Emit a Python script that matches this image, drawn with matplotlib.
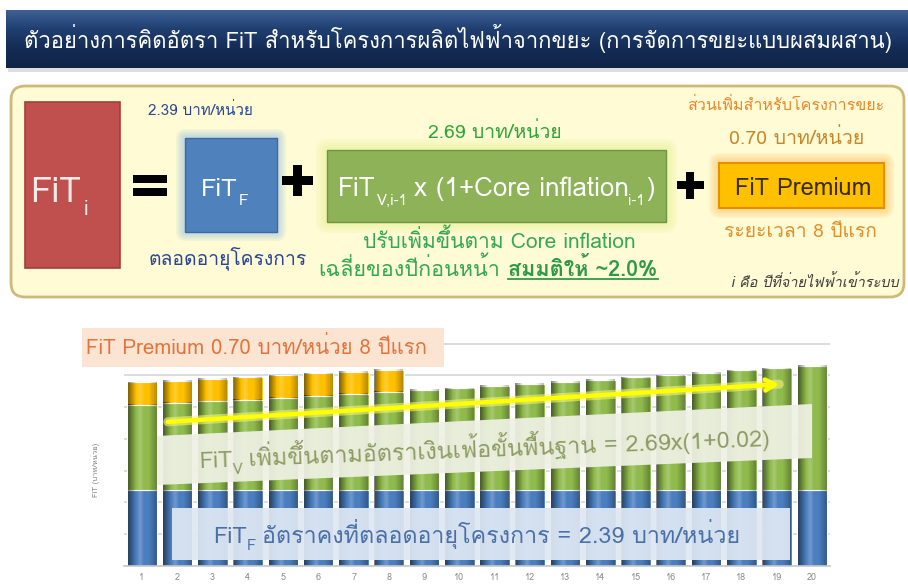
import matplotlib
matplotlib.use("Agg")
import matplotlib.pyplot as plt
import numpy as np
from matplotlib.patches import FancyBboxPatch, Rectangle, Polygon
from matplotlib.colors import LinearSegmentedColormap
from matplotlib.transforms import IdentityTransform

# ---------------- data ----------------
years = [1, 2, 3, 4, 5, 6, 7, 8, 9, 10, 11, 12, 13, 14, 15, 16, 17, 18, 19, 20]
fit_f = [2.39, 2.39, 2.39, 2.39, 2.39, 2.39, 2.39, 2.39, 2.39, 2.39,
         2.39, 2.39, 2.39, 2.39, 2.39, 2.39, 2.39, 2.39, 2.39, 2.39]
fit_v = [2.69, 2.74, 2.80, 2.85, 2.91, 2.97, 3.03, 3.09, 3.15, 3.21,
         3.28, 3.34, 3.41, 3.48, 3.55, 3.62, 3.69, 3.77, 3.84, 3.92]
premium = [0.70, 0.70, 0.70, 0.70, 0.70, 0.70, 0.70, 0.70, 0, 0,
           0, 0, 0, 0, 0, 0, 0, 0, 0, 0]
xtick_labels = [str(y) for y in years]

TITLE = "ตัวอย่างการคิดอัตรา FiT สำหรับโครงการผลิตไฟฟ้าจากขยะ (การจัดการขยะแบบผสมผสาน)"

W, H = 908, 587
TH = ["Loma", "DejaVu Sans"]
plt.rcParams['font.family'] = TH

fig = plt.figure(figsize=(W / 100, H / 100), dpi=100)
fig.patch.set_facecolor("white")
renderer = fig.canvas.get_renderer()
ID = IdentityTransform()


def px_axes(z):
    a = fig.add_axes([0, 0, 1, 1], zorder=z)
    a.set_xlim(0, W)
    a.set_ylim(H, 0)
    a.axis("off")
    a.patch.set_alpha(0)
    return a


bg = px_axes(0)


def rich(x, y, segs, rot=0.0, ha='left', width=None, center=True, z=10):
    """segs: (text, fontsize_pt, dy_px_down, kwargs, gap_px)"""
    items = []
    for seg in segs:
        s, fs, dy = seg[0], seg[1], seg[2]
        kw = seg[3] if len(seg) > 3 else {}
        gap = seg[4] if len(seg) > 4 else 0
        t = fig.text(0, 0, s, fontsize=fs, transform=ID, ha='left',
                     va='baseline', zorder=z, **kw)
        items.append([t, fs, dy, gap])

    def widths():
        return [it[0].get_window_extent(renderer).width for it in items]
    ws = widths()
    if width:
        total = sum(ws) + sum(it[3] for it in items[:-1])
        k = width / total
        for it in items:
            it[1] *= k
            it[2] *= k
            it[3] *= k
            it[0].set_fontsize(it[1])
        ws = widths()
    total = sum(ws) + sum(it[3] for it in items[:-1])
    r = np.radians(rot)
    ux, uy = np.cos(r), np.sin(r)
    pxv, pyv = np.sin(r), -np.cos(r)
    yb = y
    if center:
        yb = y + 0.36 * items[0][1] * 100 / 72
    X0, Y0 = x, H - yb
    if ha == 'center':
        X0 -= total / 2 * ux
        Y0 -= total / 2 * uy
    cum = 0
    out = []
    for it, w in zip(items, ws):
        t, fs, dy, gap = it
        X = X0 + cum * ux + dy * pxv
        Y = Y0 + cum * uy + dy * pyv
        t.set_position((X, Y))
        t.set_rotation(rot)
        t.set_rotation_mode('anchor')
        out.append((X, H - Y, w, fs))
        cum += w + gap
    return out


def ctext(x0, x1, y, s, fs=12, **kw):
    return rich((x0 + x1) / 2, y, [(s, fs, 0, kw)], ha='center', width=x1 - x0)


# ---------------- title banner ----------------
cm_ban = LinearSegmentedColormap.from_list("ban", ["#3d5f93", "#1f3e70", "#142c55", "#102446"])
grad = np.linspace(0, 1, 64).reshape(-1, 1)
bg.add_patch(Rectangle((8, 64), 900, 8, fc="#7f7f7f", alpha=0.25, lw=0, zorder=0.5))
bg.imshow(grad, extent=[6, 908, 68, 10], cmap=cm_ban, aspect='auto', origin='upper', zorder=1)
ctext(22, 893, 40, TITLE, color="white")

# ---------------- equation panel ----------------
bg.add_patch(FancyBboxPatch((11, 86), 893, 211,
                            boxstyle="round,pad=0,rounding_size=14",
                            fc="#fefbd5", ec="#cdb978", lw=2, zorder=1))

# red FiT_i
bg.add_patch(Rectangle((25, 102), 95, 166, fc="#c0504d", ec="#a43f3c", lw=1.2, zorder=2))
rich(30, 189, [("FiT", 17, 0, dict(color="#fbeaea"), 2),
               ("i", 10, 9, dict(color="#fbeaea"), 0)], width=58)

# "=" sign
bg.add_patch(Rectangle((133, 175), 34, 8, fc="black", lw=0, zorder=2))
bg.add_patch(Rectangle((133, 188), 34, 8, fc="black", lw=0, zorder=2))


def glow(x, y, w, h, col, n=6, spread=9, a=0.10):
    for i in range(n, 0, -1):
        p = spread * i / n
        bg.add_patch(FancyBboxPatch((x - p, y - p), w + 2 * p, h + 2 * p,
                                    boxstyle=f"round,pad=0,rounding_size={p + 1}",
                                    fc=col, ec="none", alpha=a, zorder=1.5))


def plus(cx, cy, L, t):
    bg.add_patch(Rectangle((cx - L / 2, cy - t / 2), L, t, fc="black", lw=0, zorder=2))
    bg.add_patch(Rectangle((cx - t / 2, cy - L / 2), t, L, fc="black", lw=0, zorder=2))


# blue FiT_F box
glow(185, 138, 92, 94, "#8fb8e8")
bg.add_patch(Rectangle((185, 138), 92, 94, fc="#4f81bd", ec="#3b6aa3", lw=1, zorder=2))
rich(201, 187, [("FiT", 12, 0, dict(color="white"), 1),
                ("F", 7.5, 6, dict(color="white"), 0)], width=48)
ctext(148, 253, 110, "2.39 บาท/หน่วย", color="#2a4796")
ctext(148, 307, 257, "ตลอดอายุโครงการ", color="#2a4796")

plus(297, 180, 31, 9)

# green FiT_V box
glow(327, 150, 339, 72, "#e6f28c", spread=11, a=0.12)
bg.add_patch(Rectangle((327, 150), 339, 72, fc="#8db257", ec="#6f9541", lw=1, zorder=2))
wc = dict(color="white")
rich(338, 187, [("FiT", 13, 0, wc, 1),
                ("V,i-1", 7.5, 6, wc, 4),
                ("x (1+Core inflation", 13, 0, wc, 0),
                ("i-1", 7.5, 6, wc, 1),
                (")", 13, 0, wc)], width=317)
ctext(428, 562, 131, "2.69 บาท/หน่วย", color="#2fa536")
ctext(363, 636, 240, "ปรับเพิ่มขึ้นตาม Core inflation", color="#34a853")
segs = rich(318, 268, [("เฉลี่ยของปีก่อนหน้า", 11, 0, dict(color="#34a853"), 6),
                       ("สมมติให้ ~2.0%", 11, 0, dict(color="#2e9a48", weight="bold"))],
            width=339)
ux0, uy0, uw, ufs = segs[1]
bg.plot([ux0, ux0 + uw], [uy0 + 3, uy0 + 3], color="#2e9a48", lw=1.3, zorder=3)

plus(690, 185, 27, 8)

# orange premium box
glow(719, 163, 165, 45, "#ffc46a", spread=10, a=0.14)
bg.add_patch(Rectangle((719, 163), 165, 45, fc="#ffc000", ec="#e58e00", lw=1.5, zorder=2))
ctext(735, 872, 186, "FiT Premium", color="#3a2c05")
ctext(687, 884, 104, "ส่วนเพิ่มสำหรับโครงการขยะ", color="#e8892b")
ctext(729, 864, 137, "0.70 บาท/หน่วย", color="#c8862a")
ctext(724, 877, 230, "ระยะเวลา 8 ปีแรก", color="#e0902a")
ctext(731, 899, 282, "i คือ ปีที่จ่ายไฟฟ้าเข้าระบบ", color="#404040", style="italic")

# ---------------- bar chart ----------------
ax_l, ax_r, ax_b, ax_t = 124.4, 829.6, 566, 343
ax = fig.add_axes([ax_l / W, (H - ax_b) / H, (ax_r - ax_l) / W, (ax_b - ax_t) / H], zorder=1)
ax.patch.set_alpha(0)
bw = 0.86
bottom_v = [f for f in fit_f]
bottom_p = [f + v for f, v in zip(fit_f, fit_v)]
b1 = ax.bar(years, fit_f, width=bw, color="#4a7ebf", edgecolor="white", lw=0.8, zorder=2)
b2 = ax.bar(years, fit_v, width=bw, bottom=bottom_v, color="#8fba4c", edgecolor="white", lw=0.8, zorder=2)
b3 = ax.bar(years, premium, width=bw, bottom=bottom_p, color="#ffc000", edgecolor="white", lw=0.8, zorder=2)

# cylinder-like shading
n = 40
xs = np.linspace(0, 1, n)
shade = np.zeros((1, n, 4))
dark = np.clip(0.5 * (1 - xs / 0.28), 0, None) + np.clip(0.28 * (xs - 0.72) / 0.28, 0, None)
light = np.clip(0.22 * (1 - np.abs(xs - 0.42) / 0.14), 0, None)
rgb = np.where((light > 0)[:, None], np.array([1.0, 1.0, 1.0]), np.array([0.0, 0.0, 0.0]))
shade[0, :, :3] = rgb
shade[0, :, 3] = np.maximum(dark, light)
for cont in (b1, b2, b3):
    for p in cont.patches:
        if p.get_height() <= 0:
            continue
        x0, y0 = p.get_x(), p.get_y()
        ax.imshow(shade, extent=[x0 + 0.02, x0 + p.get_width() - 0.02, y0, y0 + p.get_height()],
                  aspect='auto', zorder=2.1, interpolation='bilinear')

ax.set_xlim(0.5, 20.5)
ax.set_ylim(0, 7.02)
ax.set_yticks(range(0, 8))
ax.yaxis.grid(True, color="#d9d9d9", lw=1.3)
ax.set_axisbelow(True)
ax.tick_params(axis='y', length=0, labelleft=False)
ax.set_xticks(years)
ax.set_xticklabels(xtick_labels)
ax.tick_params(axis='x', length=0, labelsize=6.5, labelcolor="#8c8c8c", pad=5)
for s in ("top", "right", "left"):
    ax.spines[s].set_visible(False)
ax.spines["bottom"].set_color("#c8c8c8")
ax.spines["bottom"].set_linewidth(1.2)
fig.text(96, H - 470, "FiT (บาท/หน่วย)", transform=ID, rotation=90, fontsize=5.5,
         color="#7f7f7f", ha="center", va="center")

# ---------------- overlays on the chart ----------------
fg = px_axes(2)
fg.add_patch(Rectangle((82, 328), 362, 39, fc="#fbe4d2", ec="none", zorder=1))
ctext(86, 428, 347, "FiT Premium 0.70 บาท/หน่วย 8 ปีแรก", color="#e4733a")

fg.add_patch(Polygon([(157, 436), (812, 404), (812, 458), (157, 485)], closed=True,
                     fc="#eef1e3", ec="none", alpha=0.94, zorder=1))
gcol = dict(color="#8c9c62")
rich(485, 449, [("FiT", 17, 0, gcol, 0), ("V", 11, 7, gcol, 6),
                ("เพิ่มขึ้นตามอัตราเงินเฟ้อขั้นพื้นฐาน = 2.69x(1+0.02)", 17, 0, gcol)],
     rot=2.2, ha='center', width=570)

fg.add_patch(Rectangle((172, 508), 618, 52, fc="#dde7f3", ec="none", alpha=0.94, zorder=1))
bcol = dict(color="#4a70a8")
rich(213, 535, [("FiT", 17, 0, bcol, 0), ("F", 11, 7, bcol, 6),
                ("อัตราคงที่ตลอดอายุโครงการ = 2.39 บาท/หน่วย", 17, 0, bcol)], width=527)

fg.annotate("", xy=(782, 384), xytext=(165, 422),
            arrowprops=dict(arrowstyle="-", color="#f4f47a", lw=6.5, alpha=0.6))
fg.annotate("", xy=(782, 384), xytext=(165, 422),
            arrowprops=dict(arrowstyle="->,head_length=0.7,head_width=0.4", color="#ffff00", lw=3.2))

for a in (bg, fg):
    a.set_xlim(0, W)
    a.set_ylim(H, 0)

fig.savefig("out.png", dpi=100)
